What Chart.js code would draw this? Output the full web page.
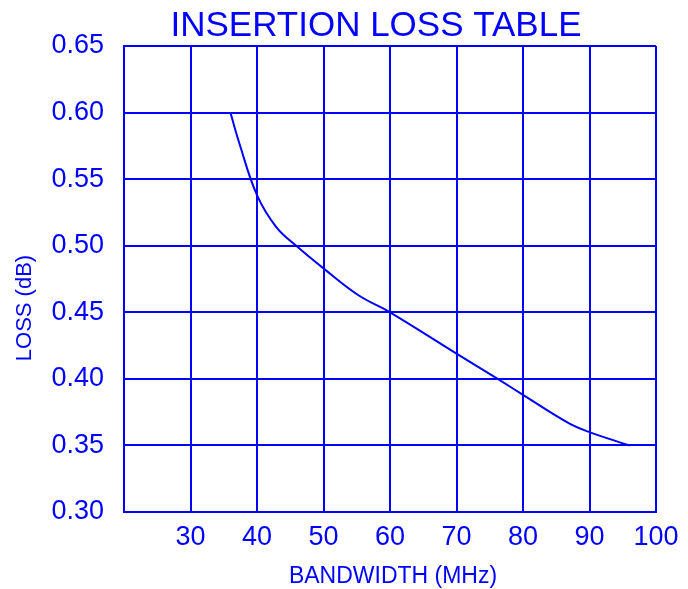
<!DOCTYPE html>
<html lang="en">
<head>
  <meta charset="UTF-8" />
  <title>Insertion Loss Table</title>
  <script src="https://cdn.jsdelivr.net/npm/chart.js"></script>
  <style>
    body { margin: 0; background: #fff; }
    canvas { display: block; }
  </style>
</head>
<body>
  <canvas id="lossChart" width="688" height="589"></canvas>
  <script>
    // Values.
    const bandwidth = [36, 37.4, 40, 42.9, 45.9, 50, 55.2, 60, 70, 76.5, 80, 86.8, 90, 96];
    const loss = [0.60, 0.576, 0.538, 0.514, 0.50, 0.483, 0.463, 0.45, 0.419, 0.399, 0.388, 0.367, 0.36, 0.35];

    const chartTitle = "INSERTION LOSS TABLE";
    const xTitle = "BANDWIDTH (MHz)";
    const yTitle = "LOSS (dB)";

    const BLUE = "#0000ff";
    const FONT = "'Liberation Sans', Arial, sans-serif";

    // Draw the title and axis titles where the reference has them.
    const titlesPlugin = {
      id: "titles",
      afterDraw(chart) {
        const ctx = chart.ctx;
        ctx.save();
        ctx.fillStyle = BLUE;
        ctx.textAlign = "center";
        ctx.textBaseline = "alphabetic";

        ctx.font = "35px " + FONT;
        ctx.fillText(chartTitle, 376, 35.5);

        ctx.font = "23px " + FONT;
        ctx.fillText(xTitle, 393, 583);

        ctx.font = "22px " + FONT;
        ctx.translate(30.5, 308);
        ctx.rotate(-Math.PI / 2);
        ctx.fillText(yTitle, 0, 0);
        ctx.restore();
      }
    };

    const points = bandwidth.map((x, i) => ({ x: x, y: loss[i] }));

    new Chart(document.getElementById("lossChart"), {
      type: "line",
      data: {
        datasets: [{
          data: points,
          borderColor: BLUE,
          borderWidth: 2,
          pointRadius: 0,
          fill: false,
          tension: 0.4
        }]
      },
      options: {
        responsive: false,
        animation: false,
        layout: { padding: { top: 46, right: 32, left: 0, bottom: 0 } },
        plugins: {
          legend: { display: false },
          tooltip: { enabled: false }
        },
        scales: {
          x: {
            type: "linear",
            min: 20,
            max: 100,
            afterFit: s => { s.height = 77; },
            ticks: {
              stepSize: 10,
              color: BLUE,
              padding: 9,
              font: { family: FONT, size: 27 },
              callback: v => (v === 20 ? "" : v)
            },
            grid: { color: BLUE, lineWidth: 2, drawTicks: false },
            border: { color: BLUE, width: 2 }
          },
          y: {
            min: 0.30,
            max: 0.65,
            afterFit: s => { s.width = 124; },
            ticks: {
              stepSize: 0.05,
              color: BLUE,
              padding: 20,
              font: { family: FONT, size: 27 },
              callback: v => Number(v).toFixed(2)
            },
            grid: { color: BLUE, lineWidth: 2, drawTicks: false },
            border: { color: BLUE, width: 2 }
          }
        }
      },
      plugins: [titlesPlugin]
    });
  </script>
</body>
</html>
